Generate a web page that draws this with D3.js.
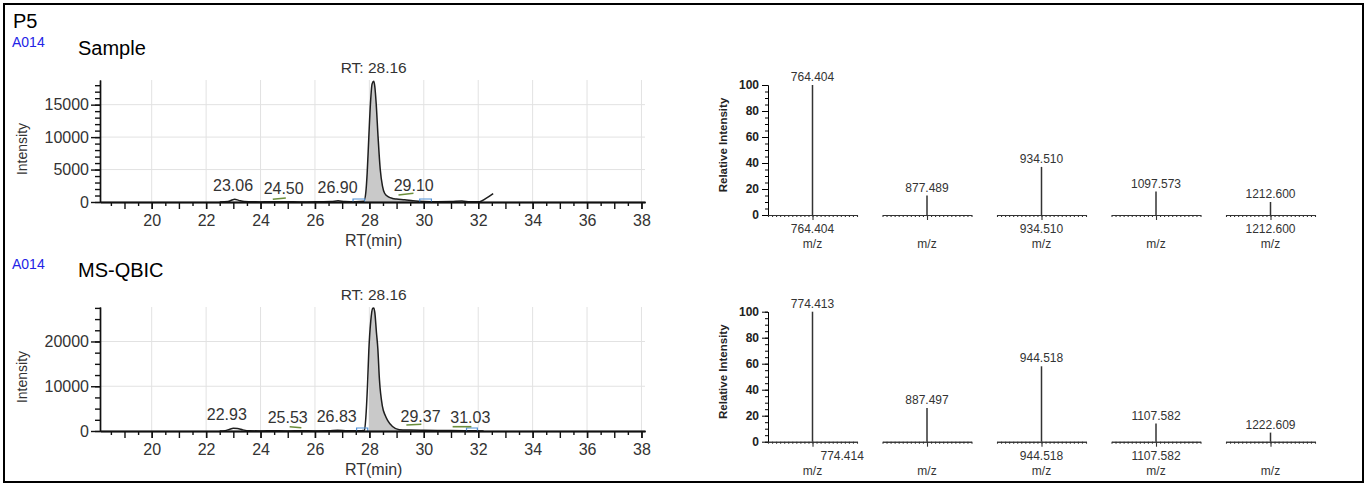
<!DOCTYPE html>
<html>
<head>
<meta charset="utf-8">
<script src="https://cdn.jsdelivr.net/npm/d3@7"></script>
<style>
  body { margin: 0; background: #fff; }
  svg { display: block; font-family: "Liberation Sans", Arial, sans-serif; }
</style>
</head>
<body>
<svg width="1369" height="486"></svg>
<script>
// ---- data ----

// retention time axis labels (min)
const rtLabels = [20, 22, 24, 26, 28, 30, 32, 34, 36, 38];

// sample chromatogram: [RT (min), intensity]
const sampleTrace = [
  [22.5, 0], [22.8, 60], [22.95, 300], [23.05, 420], [23.2, 250], [23.4, 60],
  [23.7, 40], [24.0, 0], [24.3, 40], [24.7, 20], [25.2, 30], [25.7, 0],
  [26.2, 30], [26.6, 60], [26.85, 200], [27.1, 60], [27.5, 30], [27.8, 100],
  [27.87, 1500], [27.92, 4500], [27.98, 10000], [28.04, 15200], [28.1, 18200],
  [28.16, 18600], [28.2, 17800], [28.25, 15200], [28.32, 10000], [28.4, 5000],
  [28.48, 2500], [28.56, 1350], [28.7, 800], [28.85, 550], [29.0, 450],
  [29.3, 350], [29.6, 200], [30.0, 80], [30.5, 40], [31.0, 60], [31.4, 150],
  [31.7, 30], [32.05, 50], [32.3, 600], [32.55, 1300]
];
// MS-QBIC chromatogram: [RT (min), intensity]
const qbicTrace = [
  [22.5, 0], [22.7, 80], [22.85, 350], [23.0, 600], [23.15, 550], [23.35, 250],
  [23.6, 50], [24.0, 20], [24.5, 40], [25.0, 20], [25.5, 60], [26.0, 20],
  [26.5, 40], [26.83, 150], [27.2, 40], [27.6, 30], [27.82, 150], [27.87, 3000],
  [27.93, 10000], [27.98, 18000], [28.05, 24500], [28.12, 27400], [28.16, 27500],
  [28.2, 26500], [28.26, 22000], [28.31, 18500], [28.37, 11500], [28.48, 5500],
  [28.58, 3500], [28.67, 2400], [28.85, 1000], [29.1, 300], [29.5, 200],
  [30.0, 150], [30.5, 120], [31.0, 100], [31.5, 80], [31.9, 50], [32.2, 0]
];

// labelled peaks (RT), and the RT under the centre of each printed label
const samplePeaks = [23.06, 24.50, 26.90, 29.10];
const sampleLabelRt = [22.99, 24.85, 26.83, 29.63];
const qbicPeaks = [22.93, 25.53, 26.83, 29.37, 31.03];
const qbicLabelRt = [22.76, 25.0, 26.8, 29.88, 31.71];
const mainPeakRt = 28.16;

// integration window of the main peak and its boundary markers
const sampleWindow = [27.83, 29.85];
const qbicWindow = [27.94, 31.57];
const sampleBounds = [[27.4, 27.83], [29.85, 30.28]];
const qbicBounds = [[27.53, 27.94], [31.57, 31.97]];

// small green baseline marks: [rt1, int1, rt2, int2]
const sampleMarks = [[24.45, 420, 24.93, 620], [29.07, 1080, 29.62, 1340]];
const qbicMarks = [[25.07, 960, 25.5, 740], [29.36, 1340, 29.91, 1500], [31.06, 960, 31.75, 960]];

// intensity axis ticks
const sampleYLabels = [0, 5000, 10000, 15000];
const qbicYLabels = [0, 10000, 20000];
const sampleYMax = 18800;
const qbicYMax = 27700;

// spectra: m/z, relative intensity, label printed under the axis
const sampleMz = [764.404, 877.489, 934.510, 1097.573, 1212.600];
const sampleRel = [100, 15, 37, 18, 10];
const sampleMzAxis = ["764.404", "", "934.510", "", "1212.600"];
const qbicMz = [774.413, 887.497, 944.518, 1107.582, 1222.609];
const qbicRel = [100, 26, 58, 14, 7];
const qbicMzAxis = ["774.414", "", "944.518", "1107.582", ""];
const relLabels = [0, 20, 40, 60, 80, 100];

// ---- drawing ----
const svg = d3.select("svg");

// outer frame
svg.append("rect")
  .attr("x", 4).attr("y", 4)
  .attr("width", 1359).attr("height", 478)
  .attr("fill", "none").attr("stroke", "#000").attr("stroke-width", 2);

svg.append("text").attr("x", 13).attr("y", 28)
  .attr("font-size", 20).attr("fill", "#000").text("P5");

// shared x scale for both chromatograms
const x = d3.scaleLinear().domain([18.1, 38.13]).range([100, 645]);

function drawChrom(o) {
  const g = svg.append("g");
  const y = d3.scaleLinear().domain([0, o.yMax]).range([o.y0, o.yTop]);

  g.append("text").attr("x", 12).attr("y", o.titleY)
    .attr("font-size", 14).attr("fill", "#2323e6").text("A014");
  g.append("text").attr("x", 78).attr("y", o.titleY + 8)
    .attr("font-size", 20).attr("fill", "#000").text(o.title);

  // grid
  g.append("g").selectAll("line").data(rtLabels).join("line")
    .attr("x1", d => x(d)).attr("x2", d => x(d))
    .attr("y1", o.yTop).attr("y2", o.y0)
    .attr("stroke", "#e2e2e2");
  g.append("g").selectAll("line").data(o.yLabels.filter(d => d > 0)).join("line")
    .attr("x1", 100).attr("x2", 645)
    .attr("y1", d => y(d)).attr("y2", d => y(d))
    .attr("stroke", "#e2e2e2");

  // filled main peak
  const curve = d3.curveMonotoneX;
  const area = d3.area().x(d => x(d[0])).y0(o.y0).y1(d => y(d[1])).curve(curve);
  const inWin = o.trace.filter(d => d[0] >= o.window[0] && d[0] <= o.window[1]);
  g.append("path").datum(inWin).attr("d", area).attr("fill", "#c9c9c9");

  g.append("path").datum(o.trace)
    .attr("d", d3.line().x(d => x(d[0])).y(d => y(d[1])).curve(curve))
    .attr("fill", "none").attr("stroke", "#1e1e1e").attr("stroke-width", 1.5);

  // peak boundary markers
  g.append("g").selectAll("path").data(o.bounds).join("path")
    .attr("d", d => `M${x(d[0])},${o.y0}V${o.y0 - 3}H${x(d[1])}V${o.y0}`)
    .attr("fill", "none").attr("stroke", "#4f8fd6").attr("stroke-width", 1.2);

  g.append("g").selectAll("line").data(o.marks).join("line")
    .attr("x1", d => x(d[0])).attr("y1", d => y(d[1]))
    .attr("x2", d => x(d[2])).attr("y2", d => y(d[3]))
    .attr("stroke", "#6b8e3a").attr("stroke-width", 1.6);

  // axes
  const minorY = d3.axisLeft(y).tickValues(d3.range(0, o.yMax, o.yMinor))
    .tickSize(5).tickFormat("").tickSizeOuter(0);
  g.append("g").attr("transform", "translate(100,0)").call(minorY);
  const yAxis = d3.axisLeft(y).tickValues(o.yLabels).tickFormat(d3.format("d"))
    .tickSize(9).tickPadding(2).tickSizeOuter(0);
  const ya = g.append("g").attr("transform", "translate(100,0)").call(yAxis);
  ya.selectAll("text").attr("font-size", 16).attr("fill", "#333").attr("font-family", null);

  const halfTicks = d3.range(18.5, 38.2, 0.5).filter(d => d % 1 !== 0);
  g.append("g").attr("transform", `translate(0,${o.y0})`)
    .call(d3.axisBottom(x).tickValues(halfTicks).tickSize(4).tickFormat("").tickSizeOuter(0));
  g.append("g").attr("transform", `translate(0,${o.y0})`)
    .call(d3.axisBottom(x).tickValues(d3.range(19, 39, 1)).tickSize(7).tickFormat("").tickSizeOuter(0));
  const xa = g.append("g").attr("transform", `translate(0,${o.y0})`)
    .call(d3.axisBottom(x).tickValues(rtLabels).tickSize(7).tickPadding(6).tickSizeOuter(0));
  xa.selectAll("text").attr("font-size", 16).attr("fill", "#333").attr("font-family", null);
  g.selectAll(".domain, .tick line").attr("stroke", "#111").attr("stroke-width", 1.4);

  g.append("text")
    .attr("transform", `translate(27,${(o.y0 + o.yTop) / 2 + 8}) rotate(-90)`)
    .attr("text-anchor", "middle").attr("font-size", 14).attr("fill", "#333")
    .text("Intensity");
  g.append("text").attr("x", x(28.16)).attr("y", o.y0 + 44)
    .attr("text-anchor", "middle").attr("font-size", 16).attr("fill", "#333")
    .text("RT(min)");

  // peak labels
  const at = rt => {
    const b = d3.bisector(d => d[0]).left(o.trace, rt);
    return d3.max(o.trace.slice(Math.max(0, b - 1), b + 1), d => d[1]);
  };
  g.append("g").selectAll("text").data(o.peaks).join("text")
    .attr("x", (d, i) => x(o.labelRt[i])).attr("y", d => y(at(d)) - 8)
    .attr("text-anchor", "middle").attr("font-size", 16).attr("fill", "#333")
    .text(d => d.toFixed(2));
  g.append("text").attr("x", x(mainPeakRt)).attr("y", y(at(mainPeakRt)) - 8)
    .attr("text-anchor", "middle").attr("font-size", 15.5).attr("fill", "#333")
    .text("RT: " + mainPeakRt.toFixed(2));
}

drawChrom({
  title: "Sample", titleY: 47, yTop: 80, y0: 202, yMax: sampleYMax, yMinor: 1000,
  yLabels: sampleYLabels, trace: sampleTrace, peaks: samplePeaks, labelRt: sampleLabelRt,
  window: sampleWindow, bounds: sampleBounds, marks: sampleMarks
});
drawChrom({
  title: "MS-QBIC", titleY: 269, yTop: 307, y0: 431, yMax: qbicYMax, yMinor: 2500,
  yLabels: qbicYLabels, trace: qbicTrace, peaks: qbicPeaks, labelRt: qbicLabelRt,
  window: qbicWindow, bounds: qbicBounds, marks: qbicMarks
});

// spectra rows
const panelX = d3.scalePoint().domain(d3.range(5)).range([768, 1226]);
const panelW = 89;

function drawSpectra(o) {
  const g = svg.append("g");
  const y = d3.scaleLinear().domain([0, 100]).range([o.y0, o.y0 - 130]);

  g.append("g").attr("transform", "translate(768,0)")
    .call(d3.axisLeft(y).tickValues(d3.range(0, 101, 5)).tickSize(3).tickFormat("").tickSizeOuter(0));
  const ya = g.append("g").attr("transform", "translate(768,0)")
    .call(d3.axisLeft(y).tickValues(relLabels).tickSize(6).tickPadding(3).tickSizeOuter(0));
  ya.selectAll("text").attr("font-size", 12).attr("font-weight", "bold")
    .attr("fill", "#222").attr("font-family", null);

  g.append("text")
    .attr("transform", `translate(727,${o.y0 - 70}) rotate(-90)`)
    .attr("text-anchor", "middle").attr("font-size", 11.5).attr("font-weight", "bold")
    .attr("fill", "#222").text("Relative Intensity");

  o.mz.forEach((mz, i) => {
    const x0 = panelX(i);
    const xs = d3.scaleLinear().domain([mz - 0.0015, mz + 0.0015]).range([x0, x0 + panelW]);
    const pg = g.append("g");
    const [lo, hi] = xs.domain();
    pg.append("g").attr("transform", `translate(0,${o.y0})`)
      .call(d3.axisBottom(xs).tickValues(d3.range(23).map(k => lo + k * (hi - lo) / 22))
        .tickSize(2).tickFormat("").tickSizeOuter(0));
    pg.append("g").attr("transform", `translate(0,${o.y0})`)
      .call(d3.axisBottom(xs).tickValues([mz]).tickSize(5).tickFormat("").tickSizeOuter(0));
    pg.selectAll(".domain, .tick line").attr("stroke", "#333").attr("stroke-width", 1.1);

    pg.append("line")
      .attr("x1", xs(mz)).attr("x2", xs(mz))
      .attr("y1", y(0)).attr("y2", y(o.rel[i]))
      .attr("stroke", "#333").attr("stroke-width", 1.5);
    pg.append("text").attr("x", xs(mz)).attr("y", y(o.rel[i]) - 4)
      .attr("text-anchor", "middle").attr("font-size", 12).attr("fill", "#333")
      .text(mz.toFixed(3));
    if (o.axis[i]) {
      pg.append("text").attr("x", xs(+o.axis[i])).attr("y", o.y0 + 18)
        .attr("text-anchor", "middle").attr("font-size", 12).attr("fill", "#333")
        .text(o.axis[i]);
    }
    pg.append("text").attr("x", xs(mz)).attr("y", o.y0 + 33)
      .attr("text-anchor", "middle").attr("font-size", 12).attr("fill", "#333")
      .text("m/z");
  });
}

drawSpectra({ y0: 215, mz: sampleMz, rel: sampleRel, axis: sampleMzAxis });
drawSpectra({ y0: 441.7, mz: qbicMz, rel: qbicRel, axis: qbicMzAxis });
</script>
</body>
</html>
